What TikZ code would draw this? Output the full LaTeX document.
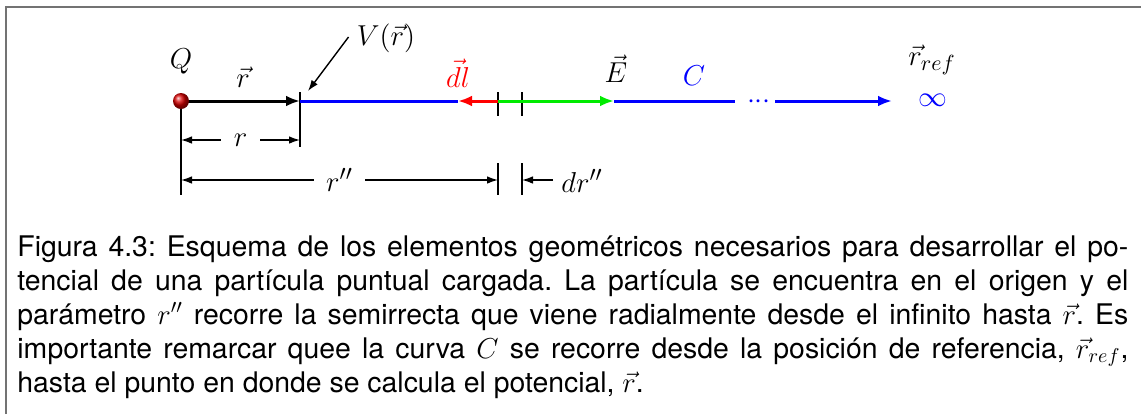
\documentclass[tikz,border=0pt]{standalone}
\usepackage{fontspec}
\setmainfont{TeX Gyre Heros}
\usetikzlibrary{arrows.meta,calc}
\definecolor{framegray}{gray}{0.45}
\definecolor{pureblue}{RGB}{0,0,255}
\definecolor{puregreen}{RGB}{0,235,0}
\definecolor{purered}{RGB}{255,0,0}
\begin{document}
\begin{tikzpicture}[x=0.5pt,y=-0.5pt,
  lbl/.style={inner sep=0pt, font=\fontsize{15}{18}\selectfont},
  axisline/.style={line width=1.5pt},
  bigtip/.style={-{Latex[length=7pt,width=5.4pt]}},
  thinline/.style={line width=0.7pt},
  dimtips/.style={{Latex[length=5.5pt,width=3.8pt]}-{Latex[length=5.5pt,width=3.8pt]}},
  onetip/.style={-{Latex[length=5.5pt,width=3.8pt]}},
  gaplabel/.style={lbl, fill=white, inner xsep=6.2pt, inner ysep=1pt}
]
\useasboundingbox (0,0) rectangle (1141,414);
% frame
\draw[framegray, line width=1pt] (6,414) -- (6,7) -- (1141,7);

% coordinates on the axis
\coordinate (O) at (181,101);
\coordinate (R) at (300,101);
\coordinate (Ltip) at (458,101);
\coordinate (D1) at (498,101);
\coordinate (D2) at (522,101);
\coordinate (Etip) at (614,101);
\coordinate (B1) at (735,101);
\coordinate (B2) at (775,101);
\coordinate (Inf) at (892,101);

% ticks
\draw[thinline] (O) -- (181,195);
\draw[thinline] (300,92) -- (300,147);
\draw[thinline] (498,92) -- (498,116);
\draw[thinline] (522,92) -- (522,116);
\draw[thinline] (498,163) -- (498,195);
\draw[thinline] (522,163) -- (522,195);

% axis segments
\draw[axisline, pureblue] (R) -- (Ltip);
\draw[axisline, purered, bigtip] (D1) -- (Ltip);
\draw[axisline, puregreen, bigtip] (D1) -- (Etip);
\draw[axisline, pureblue] (Etip) -- (B1);
\draw[axisline, pureblue, bigtip] (B2) -- (Inf);
\node[lbl, pureblue, anchor=base] (dots) at (759,108.5) {${\cdot}{\cdot}{\cdot}$};
\draw[axisline, bigtip] (O) -- (R);
\node[circle, inner sep=0pt, minimum size=8pt, shading=ball, ball color=red!85!black] (q) at (O) {};

% labels
\node[lbl] (Qlbl) at (181,61) {$Q$};
\node[lbl] (rvec) at (243,77) {$\vec r$};
\node[lbl] (V) at (386,38) {$V(\vec r)$};
\node[lbl, purered] (dl) at (458,73) {$\vec{dl}$};
\node[lbl] (E) at (616,69) {$\vec E$};
\node[lbl, pureblue] (C) at (694,76) {$C$};
\node[lbl] (rref) at (932,60) {$\vec r_{ref}$};
\node[lbl, pureblue] (inf) at (933,100) {$\infty$};

% pointer to V(r)
\draw[thinline, onetip] ($(V.west)+(-8,-1)$) -- ($(R)+(8,-10)$);

% dimensions
\draw[thinline, dimtips] (181,140) -- node[gaplabel] (rlbl) {$r$} (300,140);
\draw[thinline, dimtips] (181,180) -- node[gaplabel] (rpp) {$r''$} (498,180);
\node[lbl, anchor=west] (drpp) at (561,181) {$dr''$};
\draw[thinline, onetip] ($(drpp.west)+(-8,-1)$) -- (522,180);

% caption
\node[anchor=north west, inner sep=0pt, text width=555.5pt, align=justify,
      font=\fontsize{14.2}{17}\selectfont] (cap) at (17,235)
{\frenchspacing Figura 4.3: Esquema de los elementos geométricos necesarios para desarrollar el po-\linebreak
tencial de una partícula puntual cargada. La partícula se encuentra en el origen y el\linebreak
parámetro $r''$ recorre la semirrecta que viene radialmente desde el infinito hasta $\vec r$. Es\linebreak
importante remarcar quee la curva $C$ se recorre desde la posición de referencia, $\vec r_{ref}$,\linebreak
hasta el punto en donde se calcula el potencial, $\vec r$.};
\end{tikzpicture}
\end{document}
